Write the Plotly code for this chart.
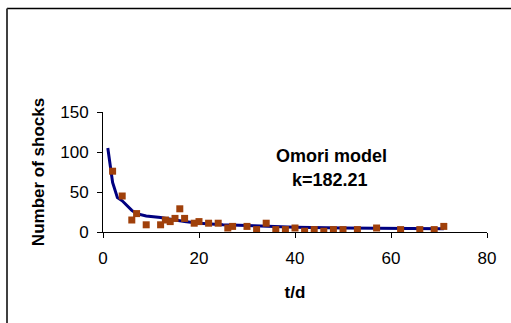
import plotly.graph_objects as go

# Observed daily number of shocks
obs_t = [2, 4, 6, 7, 9, 12, 13, 14, 15, 16, 17, 19, 20, 22, 24, 26, 27, 30, 32, 34,
         36, 38, 40, 42, 44, 46, 48, 50, 53, 57, 62, 66, 69, 71]
obs_n = [76, 45, 15, 23, 9, 9, 15, 13, 17, 29, 17, 11, 13, 11, 11, 5, 7, 7, 3, 11,
         3, 3, 5, 1, 3, 1, 3, 3, 3, 5, 3, 3, 3, 7]

# Omori model curve
model_t = [1, 2, 3, 4, 6, 7, 9, 12, 15, 17, 20, 25, 30, 40, 50, 60, 71]
model_n = [105, 62, 43, 39, 27, 23, 20, 18, 15, 13, 11, 9, 8, 6, 5, 4.5, 4]

x_ticks = [0, 20, 40, 60, 80]
y_ticks = [0, 50, 100, 150]

FONT = "Liberation Sans, Arial, sans-serif"

fig = go.Figure()
fig.add_trace(go.Scatter(x=model_t, y=model_n, mode="lines",
                         line=dict(color="#000080", width=3), showlegend=False))
fig.add_trace(go.Scatter(x=obs_t, y=obs_n, mode="markers",
                         marker=dict(symbol="square", size=7, color="#A0400A"),
                         showlegend=False))

fig.update_layout(
    width=511, height=323,
    margin=dict(l=103, r=24, t=112, b=91),
    paper_bgcolor="white", plot_bgcolor="white",
    font=dict(family=FONT, size=16, color="black"),
    xaxis=dict(range=[0, 80], tickvals=x_ticks, showgrid=False, zeroline=False,
               showline=True, linecolor="black", linewidth=1,
               ticks="outside", ticklen=5, tickcolor="black",
               tickfont=dict(size=17), ticklabelstandoff=6,
               title=dict(text="<b>t/d</b>", font=dict(size=17), standoff=18)),
    yaxis=dict(range=[0, 150], tickvals=y_ticks, showgrid=False, zeroline=False,
               showline=True, linecolor="black", linewidth=1,
               ticks="outside", ticklen=5, tickcolor="black",
               tickfont=dict(size=17), ticklabelstandoff=5,
               title=dict(text="<b>Number of shocks</b>", font=dict(size=17), standoff=11)),
    annotations=[
        dict(text="<b>Omori model</b>", x=47.5, y=95, xref="x", yref="y",
             showarrow=False, font=dict(size=18)),
        dict(text="<b>k=182.21</b>", x=47.3, y=65, xref="x", yref="y",
             showarrow=False, font=dict(size=18)),
    ],
    shapes=[
        dict(type="line", xref="paper", yref="paper",
             x0=(7 - 103) / 384, x1=1.2, y0=(232 - 8.5) / 120, y1=(232 - 8.5) / 120,
             line=dict(color="black", width=1.5)),
        dict(type="line", xref="paper", yref="paper",
             x0=(7 - 103) / 384, x1=(7 - 103) / 384, y0=-1, y1=(232 - 8.5) / 120,
             line=dict(color="#404040", width=2)),
    ],
)

fig.write_html("out.html")
